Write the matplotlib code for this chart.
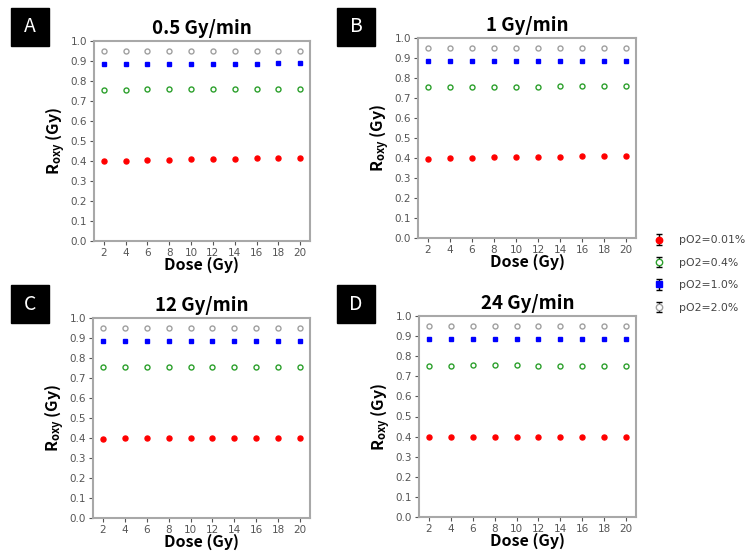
import matplotlib
matplotlib.use('Agg')
import matplotlib.pyplot as plt

W, H = 747, 552
fig = plt.figure(figsize=(W / 100, H / 100), dpi=100)

dose = [2, 4, 6, 8, 10, 12, 14, 16, 18, 20]
labels = ['pO2=0.01%', 'pO2=0.4%', 'pO2=1.0%', 'pO2=2.0%']
titles = ['0.5 Gy/min', '1 Gy/min', '12 Gy/min', '24 Gy/min']
letters = ['A', 'B', 'C', 'D']

# R_oxy per dose rate, one list per pO2
a_001 = [0.398, 0.402, 0.405, 0.407, 0.408, 0.410, 0.411, 0.413, 0.413, 0.414]
a_04 = [0.754, 0.757, 0.760, 0.760, 0.760, 0.760, 0.762, 0.762, 0.762, 0.762]
a_10 = [0.883, 0.886, 0.886, 0.886, 0.886, 0.886, 0.886, 0.886, 0.888, 0.888]
a_20 = [0.950, 0.950, 0.950, 0.950, 0.950, 0.950, 0.950, 0.950, 0.950, 0.950]

b_001 = [0.396, 0.399, 0.402, 0.405, 0.405, 0.405, 0.405, 0.408, 0.408, 0.408]
b_04 = [0.754, 0.757, 0.757, 0.757, 0.757, 0.757, 0.760, 0.760, 0.760, 0.760]
b_10 = [0.884, 0.887, 0.887, 0.887, 0.887, 0.887, 0.887, 0.887, 0.887, 0.887]
b_20 = [0.950, 0.950, 0.950, 0.950, 0.950, 0.950, 0.950, 0.950, 0.950, 0.950]

c_001 = [0.396, 0.399, 0.399, 0.399, 0.401, 0.399, 0.399, 0.399, 0.399, 0.399]
c_04 = [0.753, 0.753, 0.756, 0.756, 0.756, 0.756, 0.753, 0.753, 0.753, 0.753]
c_10 = [0.884, 0.884, 0.884, 0.884, 0.884, 0.884, 0.884, 0.884, 0.884, 0.884]
c_20 = [0.950, 0.950, 0.950, 0.950, 0.950, 0.950, 0.950, 0.950, 0.950, 0.950]

d_001 = [0.396, 0.400, 0.400, 0.400, 0.400, 0.400, 0.400, 0.400, 0.400, 0.400]
d_04 = [0.753, 0.753, 0.756, 0.756, 0.756, 0.753, 0.753, 0.753, 0.753, 0.753]
d_10 = [0.884, 0.884, 0.884, 0.884, 0.884, 0.884, 0.884, 0.884, 0.884, 0.884]
d_20 = [0.950, 0.950, 0.950, 0.950, 0.950, 0.950, 0.950, 0.950, 0.950, 0.950]

err = [0, 0, 0, 0, 0, 0, 0, 0, 0, 0]

panels = [[a_001, a_04, a_10, a_20], [b_001, b_04, b_10, b_20],
          [c_001, c_04, c_10, c_20], [d_001, d_04, d_10, d_20]]

# marker styles: (marker, facecolor, edgecolor)
styles = [('o', 'red', 'red'), ('o', 'white', '#2ca02c'),
          ('s', 'blue', 'blue'), ('o', 'white', '#a0a0a0')]

# axes boxes in pixels: left, top, right, bottom
boxes = [(94, 41, 310, 241), (418, 38, 636, 238),
         (93, 318, 310, 518), (419, 316, 636, 517)]
letter_boxes = [(11, 8), (337, 8), (11, 285), (337, 285)]

JP = ['Noto Sans CJK JP', 'DejaVu Sans']
handles = []
for k, (l, t, r, b) in enumerate(boxes):
    ax = fig.add_axes([l / W, (H - b) / H, (r - l) / W, (b - t) / H])
    for i, ys in enumerate(panels[k]):
        m, fc, ec = styles[i]
        ms = 3.6 if m == 'o' else 3.2
        ax.errorbar(dose, ys, yerr=err, fmt=m, ms=ms, mfc=fc, mec=ec, mew=1.0,
                    ecolor='black', elinewidth=1, capsize=0)
        if k == 0:
            # legend proxy (no visible data), shows error bar caps like the original
            h = ax.errorbar([float('nan')], [float('nan')], yerr=[0.1], fmt=m,
                            ms=ms + 1, mfc=fc, mec=ec, mew=1.0, ecolor='black',
                            elinewidth=1, capsize=2, label=labels[i])
            handles.append(h)
    ax.set_xlim(1.1, 20.9)
    ax.set_ylim(0, 1.0)
    ax.set_yticks([0.0, 0.1, 0.2, 0.3, 0.4, 0.5, 0.6, 0.7, 0.8, 0.9, 1.0])
    ax.set_xticks(dose)
    ax.tick_params(labelsize=7.5, colors='#555555', length=3, width=0.8, pad=2)
    for s in ax.spines.values():
        s.set_color('#a8a8a8')
        s.set_linewidth(1.5)
    ax.set_title(titles[k], fontsize=13.5, fontweight='bold', family=JP, pad=5)
    ax.set_xlabel('Dose (Gy)', fontsize=11.5, fontweight='bold', family=JP, labelpad=-1)
    ax.set_ylabel(r'R$_{\mathregular{oxy}}$ (Gy)', fontsize=11.5, fontweight='bold',
                  family=JP, labelpad=2)

    lx, ly = letter_boxes[k]
    fig.patches.append(plt.Rectangle((lx / W, (H - ly - 38) / H), 38 / W, 38 / H,
                                     transform=fig.transFigure, color='black'))
    fig.text((lx + 19) / W, (H - ly - 19) / H, letters[k], color='white',
             fontsize=14, ha='center', va='center', family=JP)

fig.legend(handles=handles, labels=labels, loc='upper left',
           bbox_to_anchor=(648 / W, (H - 231) / H), frameon=False,
           fontsize=7.8, labelcolor='#444444', handlelength=1.2,
           handletextpad=1.3, labelspacing=1.15, borderaxespad=0)

fig.savefig('out.png', dpi=100)
